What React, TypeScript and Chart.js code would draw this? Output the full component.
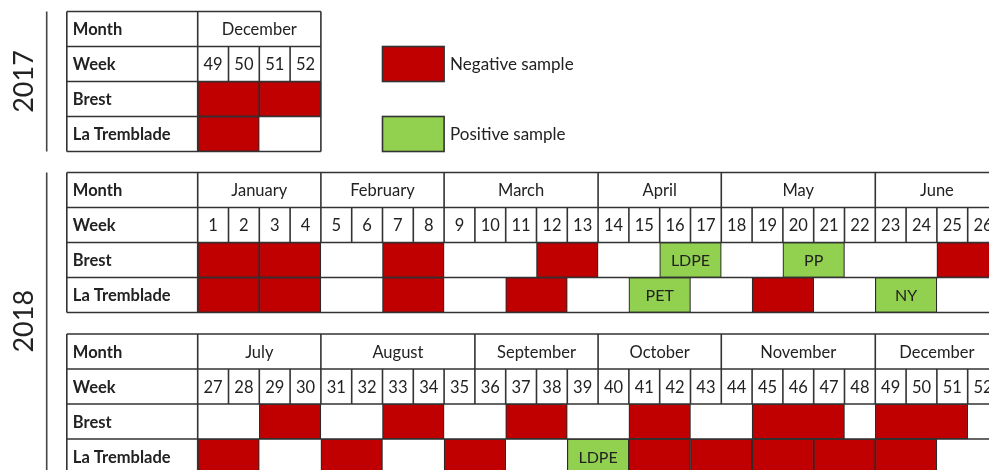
import React, { useEffect, useRef } from "react";
import { Chart, registerables } from "chart.js";
Chart.register(...registerables);

const FONT = "Lato, 'Open Sans', sans-serif";
const RED = "#C00000";
const GREEN = "#92D050";
const LINE = "#333333";
const TEXT = "#222222";

// ---- 2017 ----
const months2017 = ["December"];
const monthWeeks2017 = [4];
const weeks2017 = [49, 50, 51, 52];
const brestNeg2017 = [[49, 50], [51, 52]];
const brestPos2017: number[][] = [];
const brestPosLabels2017: string[] = [];
const tremNeg2017 = [[49, 50]];
const tremPos2017: number[][] = [];
const tremPosLabels2017: string[] = [];

// ---- 2018, January to June ----
const monthsH1 = ["January", "February", "March", "April", "May", "June"];
const monthWeeksH1 = [4, 4, 5, 4, 5, 4];
const weeksH1 = [1, 2, 3, 4, 5, 6, 7, 8, 9, 10, 11, 12, 13, 14, 15, 16, 17, 18, 19, 20, 21, 22, 23, 24, 25, 26];
const brestNegH1 = [[1, 2], [3, 4], [7, 8], [12, 13], [25, 26]];
const brestPosH1 = [[16, 17], [20, 21]];
const brestPosLabelsH1 = ["LDPE", "PP"];
const tremNegH1 = [[1, 2], [3, 4], [7, 8], [11, 12], [19, 20]];
const tremPosH1 = [[15, 16], [23, 24]];
const tremPosLabelsH1 = ["PET", "NY"];

// ---- 2018, July to December ----
const monthsH2 = ["July", "August", "September", "October", "November", "December"];
const monthWeeksH2 = [4, 5, 4, 4, 5, 4];
const weeksH2 = [27, 28, 29, 30, 31, 32, 33, 34, 35, 36, 37, 38, 39, 40, 41, 42, 43, 44, 45, 46, 47, 48, 49, 50, 51, 52];
const brestNegH2 = [[29, 30], [33, 34], [37, 38], [41, 42], [45, 47], [49, 51]];
const brestPosH2: number[][] = [];
const brestPosLabelsH2: string[] = [];
const tremNegH2 = [[27, 28], [31, 32], [35, 36], [41, 42], [43, 44], [45, 46], [47, 48], [49, 50]];
const tremPosH2 = [[39, 40]];
const tremPosLabelsH2 = ["LDPE"];

const rowLabels = ["Month", "Week", "Brest", "La Tremblade"];
const yearLabels = ["2017", "2018"];
const legendLabels = ["Negative sample", "Positive sample"];

// layout (in row / column units)
const TABLE_TOPS = [0, 4.6, 9.214];
const LABEL_COL_START = -4.25;
const YEAR_GROUPS = [[0], [1, 2]];

const tables = [
  { months: months2017, monthWeeks: monthWeeks2017, weeks: weeks2017,
    neg: [brestNeg2017, tremNeg2017], pos: [brestPos2017, tremPos2017], posLabels: [brestPosLabels2017, tremPosLabels2017] },
  { months: monthsH1, monthWeeks: monthWeeksH1, weeks: weeksH1,
    neg: [brestNegH1, tremNegH1], pos: [brestPosH1, tremPosH1], posLabels: [brestPosLabelsH1, tremPosLabelsH1] },
  { months: monthsH2, monthWeeks: monthWeeksH2, weeks: weeksH2,
    neg: [brestNegH2, tremNegH2], pos: [brestPosH2, tremPosH2], posLabels: [brestPosLabelsH2, tremPosLabelsH2] },
];

function buildData() {
  const neg: any[] = [];
  const pos: any[] = [];
  tables.forEach((t, ti) => {
    const first = t.weeks[0];
    const top = TABLE_TOPS[ti];
    [0, 1].forEach((site) => {
      const y = top + 2 + site + 0.5;
      t.neg[site].forEach((b) => neg.push({ x: [b[0] - first, b[1] - first + 1], y }));
      t.pos[site].forEach((b, i) => pos.push({ x: [b[0] - first, b[1] - first + 1], y, label: t.posLabels[site][i] }));
    });
  });
  return { neg, pos };
}

const tablePlugin = {
  id: "tablePlugin",
  afterDatasetsDraw(chart: any) {
    const ctx = chart.ctx;
    const xs = chart.scales.x;
    const ys = chart.scales.y;
    const px = (v: number) => xs.getPixelForValue(v);
    const py = (v: number) => ys.getPixelForValue(v);
    ctx.save();

    // labels inside positive samples
    const posMeta = chart.getDatasetMeta(1);
    ctx.fillStyle = TEXT;
    ctx.font = `16px ${FONT}`;
    ctx.textAlign = "center";
    ctx.textBaseline = "middle";
    posMeta.data.forEach((el: any, i: number) => {
      const d = chart.data.datasets[1].data[i];
      const p = el.getProps(["x", "y", "base"], true);
      ctx.fillText(d.label, (p.x + p.base) / 2, p.y + 1);
    });

    // table grid and texts
    ctx.strokeStyle = LINE;
    ctx.lineWidth = 1.6;
    tables.forEach((t, ti) => {
      const top = TABLE_TOPS[ti];
      const n = t.weeks.length;
      const L = px(LABEL_COL_START);
      const R = px(n);
      ctx.beginPath();
      for (let r = 0; r <= 4; r++) {
        ctx.moveTo(L, py(top + r));
        ctx.lineTo(R, py(top + r));
      }
      [L, px(0), R].forEach((x) => {
        ctx.moveTo(x, py(top));
        ctx.lineTo(x, py(top + 4));
      });
      let c = 0;
      t.monthWeeks.forEach((w) => {
        c += w;
        ctx.moveTo(px(c), py(top));
        ctx.lineTo(px(c), py(top + 1));
      });
      for (let k = 1; k < n; k++) {
        ctx.moveTo(px(k), py(top + 1));
        ctx.lineTo(px(k), py(top + 2));
      }
      ctx.stroke();

      ctx.fillStyle = TEXT;
      ctx.textBaseline = "middle";
      ctx.textAlign = "left";
      ctx.font = `bold 16.5px ${FONT}`;
      rowLabels.forEach((lab, r) => ctx.fillText(lab, L + 6, py(top + r + 0.5) + 1));
      ctx.textAlign = "center";
      ctx.font = `16.5px ${FONT}`;
      c = 0;
      t.months.forEach((m, i) => {
        const w = t.monthWeeks[i];
        ctx.fillText(m, px(c + w / 2), py(top + 0.5) + 1);
        c += w;
      });
      t.weeks.forEach((wk, k) => ctx.fillText(String(wk), px(k + 0.5), py(top + 1.5) + 1));
    });

    // year labels and lines
    YEAR_GROUPS.forEach((g, gi) => {
      const y0 = py(TABLE_TOPS[g[0]]);
      const y1 = Math.min(py(TABLE_TOPS[g[g.length - 1]] + 4), chart.height + 20);
      ctx.strokeStyle = "#444";
      ctx.lineWidth = 1.6;
      ctx.beginPath();
      ctx.moveTo(46.7, y0);
      ctx.lineTo(46.7, y1);
      ctx.stroke();
      const yc = (y0 + Math.min(y1, chart.height)) / 2;
      ctx.save();
      ctx.translate(23, yc);
      ctx.rotate(-Math.PI / 2);
      ctx.fillStyle = TEXT;
      ctx.font = `27px ${FONT}`;
      ctx.textAlign = "center";
      ctx.textBaseline = "middle";
      ctx.fillText(yearLabels[gi], 0, 1);
      ctx.restore();
    });

    // legend
    const legendColors = [RED, GREEN];
    legendColors.forEach((col, i) => {
      const r0 = TABLE_TOPS[0] + 1 + i * 2;
      const x0 = px(6), x1 = px(8);
      const y0 = py(r0), y1 = py(r0 + 1);
      ctx.fillStyle = col;
      ctx.fillRect(x0, y0, x1 - x0, y1 - y0);
      ctx.strokeStyle = LINE;
      ctx.lineWidth = 1.6;
      ctx.strokeRect(x0, y0, x1 - x0, y1 - y0);
      ctx.fillStyle = TEXT;
      ctx.font = `17px ${FONT}`;
      ctx.textAlign = "left";
      ctx.textBaseline = "middle";
      ctx.fillText(legendLabels[i], x1 + 6, (y0 + y1) / 2 + 1);
    });

    ctx.restore();
  },
};

export default function App() {
  const ref = useRef<HTMLCanvasElement | null>(null);
  useEffect(() => {
    if (!ref.current) return;
    const { neg, pos } = buildData();
    const chart = new Chart(ref.current, {
      type: "bar",
      data: {
        datasets: [
          { label: legendLabels[0], data: neg, backgroundColor: RED, borderColor: "#2a2a2a", borderWidth: 1.2, borderSkipped: false, grouped: false, barThickness: 35 } as any,
          { label: legendLabels[1], data: pos, backgroundColor: GREEN, borderColor: "#2a2a2a", borderWidth: 1.2, borderSkipped: false, grouped: false, barThickness: 35 } as any,
        ],
      },
      options: {
        animation: false,
        responsive: true,
        maintainAspectRatio: false,
        indexAxis: "y",
        layout: { padding: 0 },
        parsing: { xAxisKey: "x", yAxisKey: "y" },
        scales: {
          x: { type: "linear", min: -6.419, max: 25.692, display: false },
          y: {
            type: "linear", reverse: true, min: -0.3286, max: 13.1, display: false,
            afterBuildTicks: (s: any) => { s.ticks = []; },
          },
        },
        plugins: { legend: { display: false }, tooltip: { enabled: false } },
      } as any,
      plugins: [tablePlugin],
    });
    return () => chart.destroy();
  }, []);
  return (
    <div style={{ position: "absolute", left: 0, top: 0, width: 989, height: 470, background: "#fff" }}>
      <canvas ref={ref} />
    </div>
  );
}
